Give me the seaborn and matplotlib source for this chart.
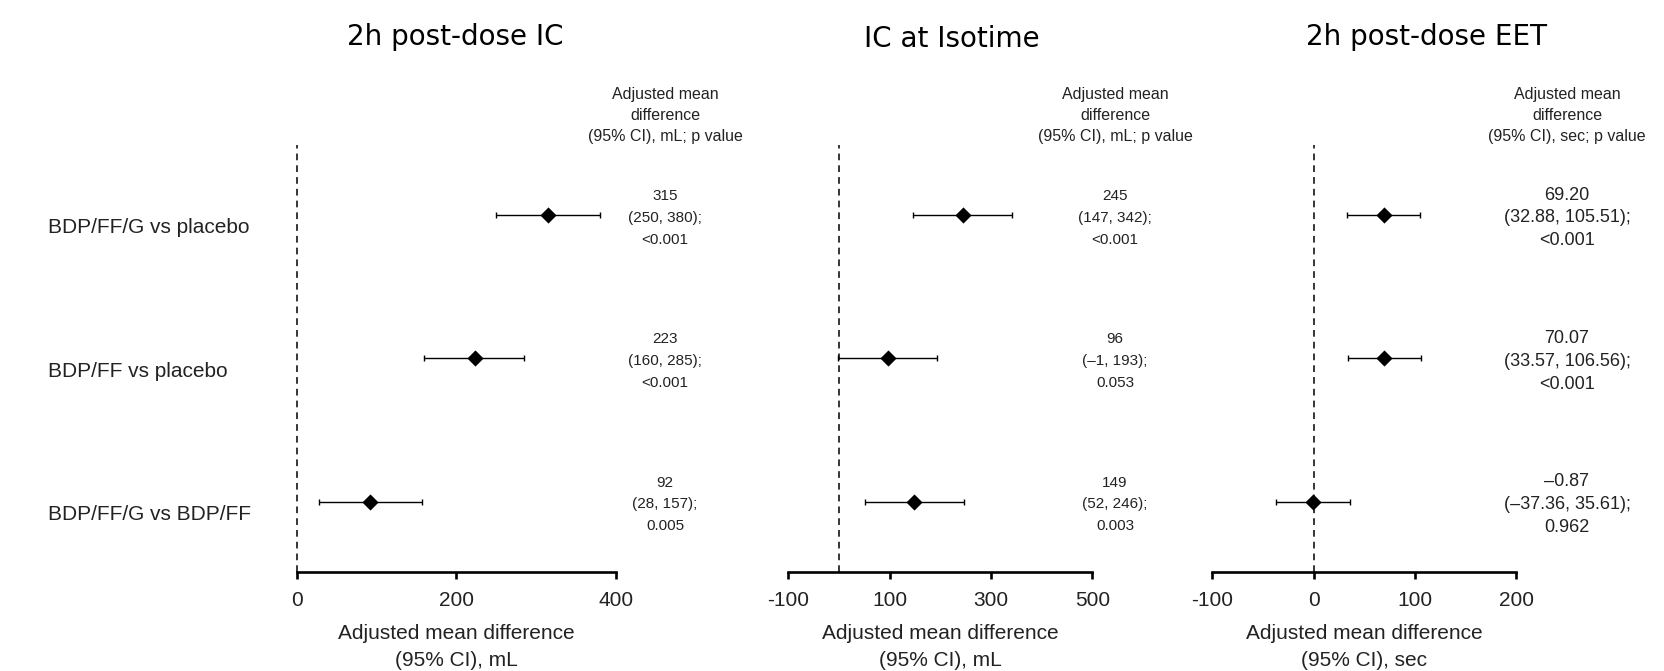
import numpy as np
import pandas as pd
import matplotlib
matplotlib.use("Agg")
import matplotlib.pyplot as plt
import matplotlib.transforms as mtransforms
import seaborn as sns

# rows of the forest plot, top to bottom
comparisons = ["BDP/FF/G vs placebo", "BDP/FF vs placebo", "BDP/FF/G vs BDP/FF"]

titles = ["2h post-dose IC", "IC at Isotime", "2h post-dose EET"]
units = ["mL", "mL", "sec"]
decimals = [0, 0, 2]

ic_est = [315, 223, 92]
ic_lo = [250, 160, 28]
ic_hi = [380, 285, 157]
ic_p = ["<0.001", "<0.001", "0.005"]
ic_ticks = [0, 200, 400]

iso_est = [245, 96, 149]
iso_lo = [147, -1, 52]
iso_hi = [342, 193, 246]
iso_p = ["<0.001", "0.053", "0.003"]
iso_ticks = [-100, 100, 300, 500]

eet_est = [69.20, 70.07, -0.87]
eet_lo = [32.88, 33.57, -37.36]
eet_hi = [105.51, 106.56, 35.61]
eet_p = ["<0.001", "<0.001", "0.962"]
eet_ticks = [-100, 0, 100, 200]

panels = [
    (ic_est, ic_lo, ic_hi, ic_p, ic_ticks),
    (iso_est, iso_lo, iso_hi, iso_p, iso_ticks),
    (eet_est, eet_lo, eet_hi, eet_p, eet_ticks),
]

sns.set_theme(style="ticks")
plt.rcParams["font.family"] = ["Liberation Sans", "DejaVu Sans"]
plt.rcParams["axes.unicode_minus"] = False

W, H = 1665, 671
fig = plt.figure(figsize=(W / 100, H / 100), dpi=100)

# layout in pixels
ax_left = [296.7, 788.3, 1212.3]
ax_right = [615.7, 1092.3, 1516.0]
ax_top, ax_bottom = 145, 571.7
ann_x = [665, 1115, 1567]
ann_size = [11, 11, 13]
ann_ls = [1.7, 1.7, 1.45]
title_x = [455, 952, 1427]
title_y = [37, 39, 37]


def fmt(v, nd):
    return f"{v:.{nd}f}".replace("-", "\u2013")


for i, (est, lo, hi, pvals, ticks) in enumerate(panels):
    ax = fig.add_axes([ax_left[i] / W, 1 - ax_bottom / H,
                       (ax_right[i] - ax_left[i]) / W, (ax_bottom - ax_top) / H])
    df = pd.DataFrame({"comparison": comparisons, "est": est, "lo": lo, "hi": hi})
    df["row"] = np.arange(len(df))

    ax.axvline(0, color="black", lw=1.1, dashes=(4.4, 3.3), zorder=1, clip_on=False)
    ax.errorbar(df["est"], df["row"], xerr=[df["est"] - df["lo"], df["hi"] - df["est"]],
                fmt="none", ecolor="black", elinewidth=1.0, capsize=2.3, capthick=1.0,
                zorder=2, clip_on=False)
    sns.scatterplot(data=df, x="est", y="row", marker="D", s=68, color="black",
                    linewidth=0, legend=False, ax=ax, zorder=3, clip_on=False)

    ax.set_xlim(ticks[0], ticks[-1])
    ax.set_ylim(2.489, -0.4885)
    ax.set_xticks(ticks)
    ax.set_xticklabels([str(t) for t in ticks])
    ax.set_yticks([])
    ax.set_ylabel("")
    for s in ["left", "top", "right"]:
        ax.spines[s].set_visible(False)
    ax.spines["bottom"].set_linewidth(1.9)
    ax.spines["bottom"].set_color("black")
    ax.spines["bottom"].set_bounds(ticks[0], ticks[-1])
    ax.tick_params(axis="x", length=5, width=1.9, color="black", labelsize=15,
                   labelcolor="#222222", pad=9)
    ax.set_xlabel(f"Adjusted mean difference\n(95% CI), {units[i]}", fontsize=15,
                  color="#222222", linespacing=1.5, labelpad=10)
    ax.patch.set_alpha(0)

    trans = mtransforms.blended_transform_factory(fig.transFigure, ax.transData)
    for r in df["row"]:
        txt = f"{fmt(est[r], decimals[i])}\n({fmt(lo[r], decimals[i])}, {fmt(hi[r], decimals[i])});\n{pvals[r]}"
        ax.text(ann_x[i] / W, r + 0.02, txt, transform=trans, ha="center", va="center",
                fontsize=ann_size[i], linespacing=ann_ls[i], color="#222222", clip_on=False)
        if i == 0:
            ax.text(48 / W, r + 0.09, comparisons[r], transform=trans, ha="left",
                    va="center", fontsize=15, color="#222222", clip_on=False)

    fig.text(ann_x[i] / W, 1 - 116 / H,
             f"Adjusted mean\ndifference\n(95% CI), {units[i]}; p value",
             ha="center", va="center", fontsize=11.5, linespacing=1.5, color="#222222")
    fig.text(title_x[i] / W, 1 - title_y[i] / H, titles[i], ha="center", va="center",
             fontsize=20, family="DejaVu Sans", color="black")

fig.savefig("out.png", dpi=100, facecolor="white")
